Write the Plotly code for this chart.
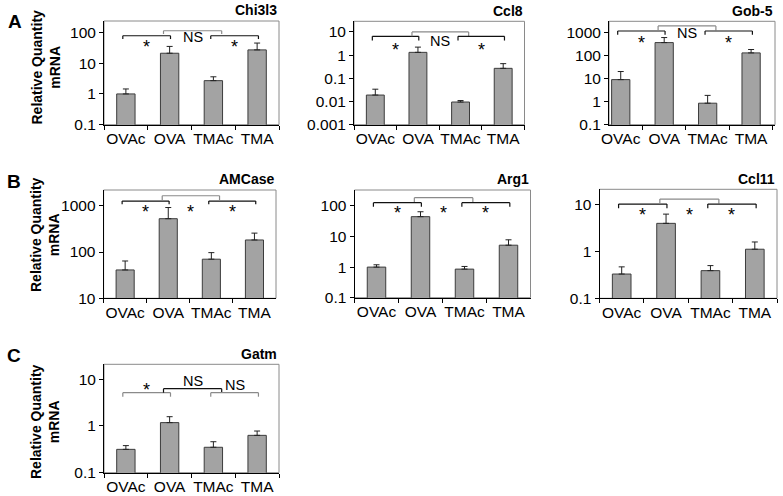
import plotly.graph_objects as go

# ---------------- data ----------------
groups = ["OVAc", "OVA", "TMAc", "TMA"]

chi3l3_mean = [1.0, 21.0, 2.7, 27.0]
chi3l3_err = [0.45, 14.0, 0.9, 18.0]
chi3l3_ticks = [0.1, 1, 10, 100]
chi3l3_sig = ["*", "NS", "*"]

ccl8_mean = [0.019, 1.32, 0.0095, 0.27]
ccl8_err = [0.015, 0.9, 0.0015, 0.16]
ccl8_ticks = [0.001, 0.01, 0.1, 1, 10]
ccl8_sig = ["*", "NS", "*"]

gob5_mean = [8.9, 355.0, 0.85, 127.0]
gob5_err = [11.0, 230.0, 1.0, 51.0]
gob5_ticks = [0.1, 1, 10, 100, 1000]
gob5_sig = ["*", "NS", "*"]

amcase_mean = [41.0, 525.0, 70.0, 182.0]
amcase_err = [23.0, 390.0, 27.0, 74.0]
amcase_ticks = [10, 100, 1000]
amcase_sig = ["*", "*", "*"]

arg1_mean = [1.0, 44.5, 0.86, 5.2]
arg1_err = [0.19, 20.0, 0.19, 2.6]
arg1_ticks = [0.1, 1, 10, 100]
arg1_sig = ["*", "*", "*"]

ccl11_mean = [0.33, 4.0, 0.39, 1.12]
ccl11_err = [0.14, 2.3, 0.11, 0.48]
ccl11_ticks = [0.1, 1, 10]
ccl11_sig = ["*", "*", "*"]

gatm_mean = [0.316, 1.18, 0.35, 0.63]
gatm_err = [0.064, 0.4, 0.11, 0.15]
gatm_ticks = [0.1, 1, 10]
gatm_sig = ["*", "NS", "NS"]

# ---------------- layout config (pixels) ----------------
W, H = 783, 496
FONT = "Liberation Sans, Arial, sans-serif"
BLACK, GRAY = "#111111", "#8a8a8a"
TICK_SIZE = 15.5

panels = [
    dict(title="Chi3l3", mean=chi3l3_mean, err=chi3l3_err, ticks=chi3l3_ticks, sig=chi3l3_sig,
         px=(104, 279), py=(21, 124.7), yr=(-1, 2.37), xr=(-0.5, 3.5),
         lv=(0.858, 0.826), tv=(0.906, 0.875), lab=(0.80, 0.846, 0.80), cols=(BLACK, GRAY, BLACK)),
    dict(title="Ccl8", mean=ccl8_mean, err=ccl8_err, ticks=ccl8_ticks, sig=ccl8_sig,
         px=(354, 524.5), py=(21.3, 124.7), yr=(-3, 1.46), xr=(-0.5, 3.5),
         lv=(0.855, 0.814), tv=(0.897, 0.855), lab=(0.77, 0.81, 0.77), cols=(BLACK, GRAY, BLACK)),
    dict(title="Gob-5", mean=gob5_mean, err=gob5_err, ticks=gob5_ticks, sig=gob5_sig,
         px=(609, 775), py=(21.3, 124.7), yr=(-1, 3.47), xr=(-0.27, 3.55),
         lv=(0.906, 0.871), tv=(0.955, 0.913), lab=(0.839, 0.884, 0.839), cols=(BLACK, GRAY, BLACK)),
    dict(title="AMCase", mean=amcase_mean, err=amcase_err, ticks=amcase_ticks, sig=amcase_sig,
         px=(103.6, 276), py=(190, 298.3), yr=(1, 3.34), xr=(-0.5, 3.5),
         lv=(0.898, 0.868), tv=(0.947, 0.908), lab=(0.846, 0.846, 0.846), cols=(BLACK, GRAY, BLACK)),
    dict(title="Arg1", mean=arg1_mean, err=arg1_err, ticks=arg1_ticks, sig=arg1_sig,
         px=(354.5, 530.5), py=(190, 297.7), yr=(-1, 2.52), xr=(-0.5, 3.5),
         lv=(0.882, 0.845), tv=(0.929, 0.889), lab=(0.83, 0.83, 0.83), cols=(BLACK, GRAY, BLACK)),
    dict(title="Ccl11", mean=ccl11_mean, err=ccl11_err, ticks=ccl11_ticks, sig=ccl11_sig,
         px=(599.5, 777), py=(189.3, 298.3), yr=(-1, 1.33), xr=(-0.5, 3.5),
         lv=(0.864, 0.827), tv=(0.91, 0.87), lab=(0.81, 0.81, 0.81), cols=(BLACK, GRAY, BLACK)),
    dict(title="Gatm", mean=gatm_mean, err=gatm_err, ticks=gatm_ticks, sig=gatm_sig,
         px=(104, 279), py=(364.3, 472.7), yr=(-1, 1.32), xr=(-0.5, 3.5),
         lv=(0.738, 0.701), tv=(0.775, 0.738), lab=(0.81, 0.849, 0.81), cols=(GRAY, BLACK, GRAY)),
]

# bracket x extents in category units
LEFT_BR = (-0.07, 1.02)
TOP_BR = (0.86, 2.19)
RIGHT_BR = (1.94, 3.03)


def tick_text(v):
    return ("%g" % v)


fig = go.Figure()
layout = dict(
    width=W, height=H, margin=dict(l=0, r=0, t=0, b=0),
    paper_bgcolor="white", plot_bgcolor="white",
    showlegend=False, font=dict(family=FONT, color="black", size=13),
)
shapes = []
annotations = []

for i, p in enumerate(panels):
    n = i + 1
    xa = "x" if n == 1 else f"x{n}"
    ya = "y" if n == 1 else f"y{n}"
    fig.add_trace(go.Bar(
        x=groups, y=p["mean"], xaxis=xa, yaxis=ya, width=0.42,
        marker=dict(color="#a3a3a3", line=dict(color="#3c3c3c", width=1)),
        error_y=dict(type="data", array=p["err"], arrayminus=[0] * len(groups),
                     symmetric=False, color="#222222", thickness=1, width=3),
        hoverinfo="skip",
    ))
    layout["xaxis" if n == 1 else f"xaxis{n}"] = dict(
        domain=[p["px"][0] / W, p["px"][1] / W], anchor=ya, type="category",
        range=list(p["xr"]), tickson="boundaries", ticks="outside", ticklen=4,
        tickcolor="black", showline=True, linecolor="black", linewidth=1,
        showgrid=False, zeroline=False, tickangle=0, automargin=False,
        tickfont=dict(family=FONT, size=TICK_SIZE, color="black"),
        fixedrange=True,
    )
    layout["yaxis" if n == 1 else f"yaxis{n}"] = dict(
        domain=[1 - p["py"][1] / H, 1 - p["py"][0] / H], anchor=xa, type="log",
        range=list(p["yr"]), tickvals=p["ticks"], ticktext=[tick_text(v) for v in p["ticks"]],
        ticks="outside", ticklen=4, tickcolor="black", showline=True, linecolor="black",
        linewidth=1, showgrid=False, zeroline=False, automargin=False,
        tickfont=dict(family=FONT, size=TICK_SIZE, color="black"), fixedrange=True,
    )
    # gray frame
    shapes.append(dict(type="rect", xref=f"{xa} domain", yref=f"{ya} domain",
                       x0=0, x1=1, y0=0, y1=1, line=dict(color=GRAY, width=1), layer="below"))
    # brackets
    ly, lt = p["lv"]
    ty, tt = p["tv"]
    for (bx0, bx1), (yy, yt), col in ((LEFT_BR, (ly, lt), p["cols"][0]),
                                      (TOP_BR, (ty, tt), p["cols"][1]),
                                      (RIGHT_BR, (ly, lt), p["cols"][2])):
        for seg in ((bx0, yy, bx1, yy), (bx0, yy, bx0, yt), (bx1, yy, bx1, yt)):
            shapes.append(dict(type="line", xref=xa, yref=f"{ya} domain",
                               x0=seg[0], y0=seg[1], x1=seg[2], y1=seg[3],
                               line=dict(color=col, width=1.2)))
    # significance labels
    mids = [(LEFT_BR[0] + LEFT_BR[1]) / 2, (TOP_BR[0] + TOP_BR[1]) / 2,
            (RIGHT_BR[0] + RIGHT_BR[1]) / 2]
    for lbl, mx, ly_lab in zip(p["sig"], mids, p["lab"]):
        star = lbl == "*"
        annotations.append(dict(
            text=lbl, xref=xa, yref=f"{ya} domain", x=mx, y=ly_lab,
            xanchor="center", yanchor="middle", showarrow=False,
            yshift=-5 if star else 0,
            font=dict(family=FONT, size=18 if star else 14.5, color="black"),
        ))
    # gene title
    annotations.append(dict(
        text=f"<b>{p['title']}</b>", xref=f"{xa} domain", yref="paper",
        x=1, y=1 - (p["py"][0] - 10.5) / H, xanchor="right", yanchor="middle",
        showarrow=False, font=dict(family=FONT, size=14, color="black"),
    ))

# y-axis titles and panel letters
for yc in (67.5, 235, 422):
    annotations.append(dict(
        text="<b>Relative Quantity<br>mRNA</b>", xref="paper", yref="paper",
        x=45 / W, y=1 - yc / H, xanchor="center", yanchor="middle", textangle=-90,
        showarrow=False, font=dict(family=FONT, size=14, color="black"),
    ))
for letter, (lx, lyy) in (("A", (15, 21)), ("B", (14, 181)), ("C", (14, 355))):
    annotations.append(dict(
        text=f"<b>{letter}</b>", xref="paper", yref="paper", x=lx / W, y=1 - lyy / H,
        xanchor="center", yanchor="middle", showarrow=False,
        font=dict(family=FONT, size=19, color="black"),
    ))

layout["shapes"] = shapes
layout["annotations"] = annotations
fig.update_layout(**layout)
fig.write_html(
    "out.html",
    config={"displayModeBar": False, "staticPlot": True},
    post_script="document.body.style.margin='0';document.body.style.padding='0';",
)
